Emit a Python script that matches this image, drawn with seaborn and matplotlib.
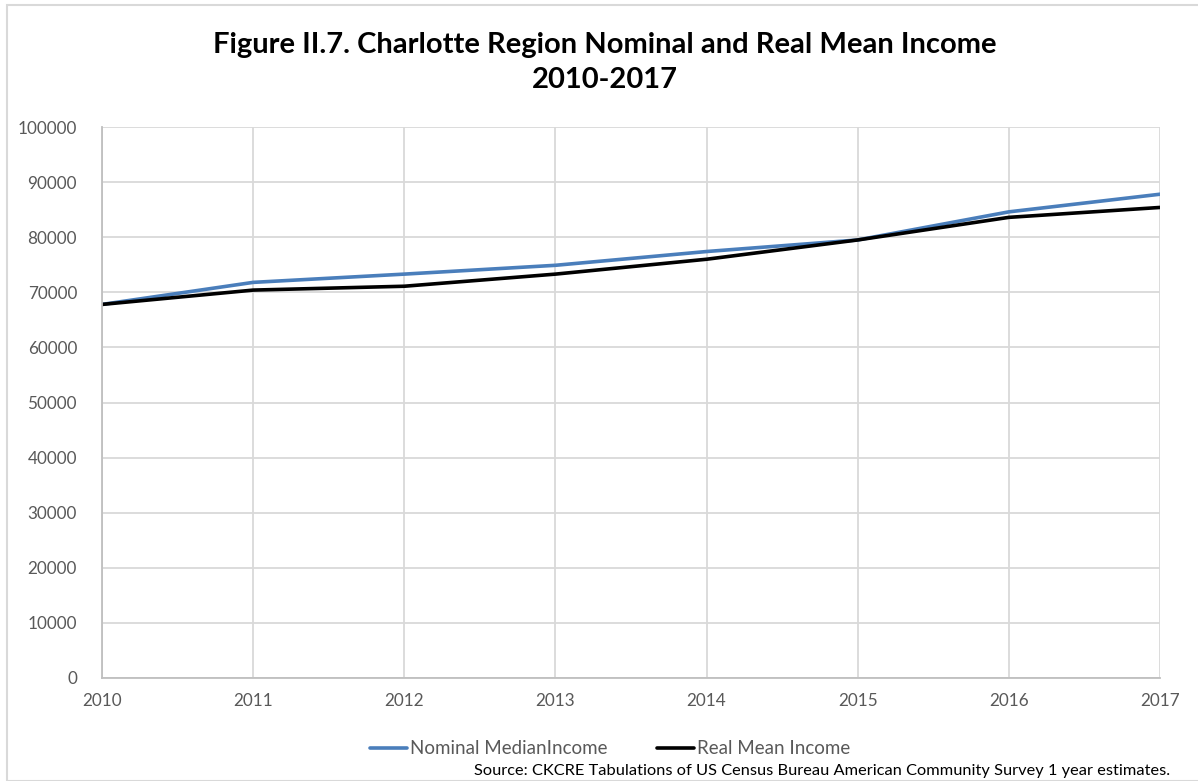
import matplotlib
matplotlib.use("Agg")
import matplotlib.pyplot as plt
import seaborn as sns
import pandas as pd
from matplotlib.patches import Rectangle
from matplotlib.lines import Line2D

years = [2010, 2011, 2012, 2013, 2014, 2015, 2016, 2017]
nominal_median_income = [67800, 71800, 73300, 74900, 77400, 79500, 84600, 87800]
real_mean_income = [67800, 70400, 71100, 73300, 76000, 79500, 83600, 85400]
series_names = ["Nominal MedianIncome", "Real Mean Income"]
series_colors = ["#4a7ebb", "#000000"]
y_ticks = list(range(0, 100001, 10000))

df = pd.DataFrame({
    "Year": years * 2,
    "Income": nominal_median_income + real_mean_income,
    "Series": [series_names[0]] * len(years) + [series_names[1]] * len(years),
})

sns.set_theme(style="white")
plt.rcParams["font.family"] = ["Lato", "DejaVu Sans"]

fig = plt.figure(figsize=(11.98, 7.81), dpi=100)
ax = fig.add_axes([102/1198, 1 - 678/781, (1160-102)/1198, (678-127)/781])

sns.lineplot(data=df, x="Year", y="Income", hue="Series", palette=series_colors,
             hue_order=series_names, linewidth=2.6, ax=ax, legend=False)

ax.set_xlim(years[0], years[-1])
ax.set_ylim(0, 100000)
ax.set_xticks(years)
ax.set_yticks(y_ticks)
ax.set_xticklabels([str(y) for y in years])
ax.set_yticklabels([str(t) for t in y_ticks])
ax.grid(True, color="#d9d9d9", linewidth=1.3)
ax.set_axisbelow(True)
for s in ["top", "right"]:
    ax.spines[s].set_visible(False)
for s in ["left", "bottom"]:
    ax.spines[s].set_color("#bfbfbf")
    ax.spines[s].set_linewidth(1.3)
ax.tick_params(axis="both", length=0, labelsize=12.3, colors="#595959")
ax.tick_params(axis="x", pad=11)
ax.tick_params(axis="y", pad=18)
ax.set_xlabel("")
ax.set_ylabel("")

fig.text(605/1198, 1 - 45/781, "Figure II.7. Charlotte Region Nominal and Real Mean Income",
         ha="center", va="center", fontsize=21, fontweight="bold", color="#000000")
fig.text(605/1198, 1 - 80/781, "2010-2017",
         ha="center", va="center", fontsize=21, fontweight="bold", color="#000000")

handles = [Line2D([0], [0], color=c, linewidth=2.6) for c in series_colors]
fig.legend(handles, series_names, loc="center", bbox_to_anchor=(610/1198, 1 - 749/781),
           ncol=2, frameon=False, fontsize=13.5, handlelength=2.0, handletextpad=0.15,
           columnspacing=2.6, labelcolor="#595959")

fig.text(1170/1198, 1 - 771/781,
         "Source: CKCRE Tabulations of US Census Bureau American Community Survey 1 year estimates.",
         ha="right", va="center", fontsize=11.8, color="#000000")

fig.patches.append(Rectangle((7/1198, 0), 1.0, 1 - 5/781, transform=fig.transFigure,
                             fill=False, edgecolor="#d9d9d9", linewidth=1.5))

fig.savefig("out.png", dpi=100)
